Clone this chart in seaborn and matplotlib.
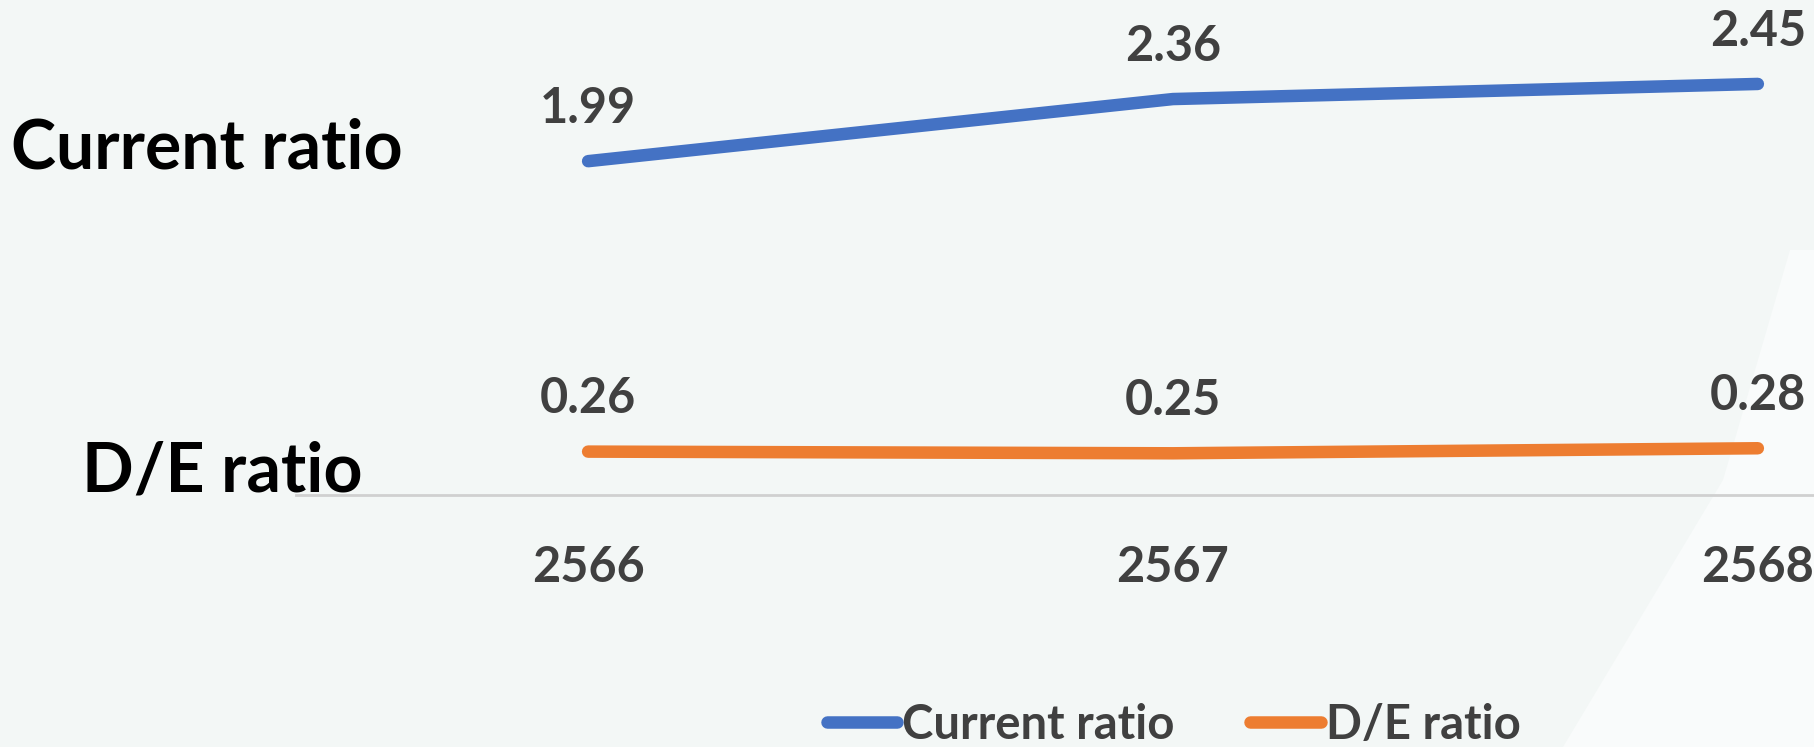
import pandas as pd
import matplotlib.pyplot as plt
from matplotlib.lines import Line2D
from matplotlib.patches import Polygon
import seaborn as sns

# data
years = ["2566", "2567", "2568"]
current_ratio = [1.99, 2.36, 2.45]
de_ratio = [0.26, 0.25, 0.28]

series_names = ["Current ratio", "D/E ratio"]
colors = ["#4472C4", "#ED7D31"]

df = pd.DataFrame({
    "year": years * 2,
    "value": current_ratio + de_ratio,
    "series": [series_names[0]] * 3 + [series_names[1]] * 3,
})
df["pos"] = list(range(len(years))) * 2

sns.set_theme(style="white")
plt.rcParams["font.family"] = ["Lato", "DejaVu Sans"]

W, H = 1814, 747
fig = plt.figure(figsize=(W / 100, H / 100), dpi=100)
fig.patch.set_facecolor("#f3f7f6")

# faint lighter shape in the lower right of the background
bg = Polygon([(1790 / W, 1 - 250 / H), (1723 / W, 1 - 480 / H), (1563 / W, 0),
              (1, 0), (1, 1 - 250 / H)], closed=True, transform=fig.transFigure,
             facecolor="#f9fbfb", edgecolor="none", zorder=-5)
fig.patches.append(bg)

ax = fig.add_axes([0.163, 0.337, 0.837, 0.663])
ax.set_facecolor("none")
ax.set_zorder(5)

sns.lineplot(data=df, x="pos", y="value", hue="series", palette=colors,
             linewidth=9, ax=ax, legend=False, solid_capstyle="round")

ax.set_xlim(-0.5, 2.096)
ax.set_ylim(0, 2.95)

# data labels
for ser, vals in zip(series_names, [current_ratio, de_ratio]):
    for i, v in enumerate(vals):
        ax.annotate(f"{v:.2f}", (i, v), xytext=(0, 38), textcoords="offset points",
                    ha="center", va="center", fontsize=35, fontweight="bold",
                    color="#404040")

ax.set_xticks(range(len(years)))
ax.set_xticklabels(years, fontsize=35, fontweight="bold", color="#404040")
ax.tick_params(axis="x", length=0, pad=36)
ax.set_yticks([])
ax.set_xlabel("")
ax.set_ylabel("")
for s in ["top", "right", "left"]:
    ax.spines[s].set_visible(False)
ax.spines["bottom"].set_color("#d0d0d0")
ax.spines["bottom"].set_linewidth(2)

# series names at the left
fig.text(0.006, 0.80, "Current ratio", fontsize=49, fontweight="bold",
         color="black", va="center", ha="left", zorder=6)
fig.text(0.045, 0.368, "D/E ratio", fontsize=49, fontweight="bold",
         color="black", va="center", ha="left", zorder=6)

handles = [Line2D([], [], color=c, linewidth=9, solid_capstyle="round") for c in colors]
leg = fig.legend(handles, series_names, loc="center", bbox_to_anchor=(0.647, 0.03),
                 ncol=2, frameon=False, fontsize=34, handlelength=1.5,
                 handletextpad=0.1, columnspacing=1.6)
leg.set_zorder(6)
for t in leg.get_texts():
    t.set_color("#404040")
    t.set_fontweight("bold")

fig.savefig("out.png", dpi=100, facecolor=fig.get_facecolor())
